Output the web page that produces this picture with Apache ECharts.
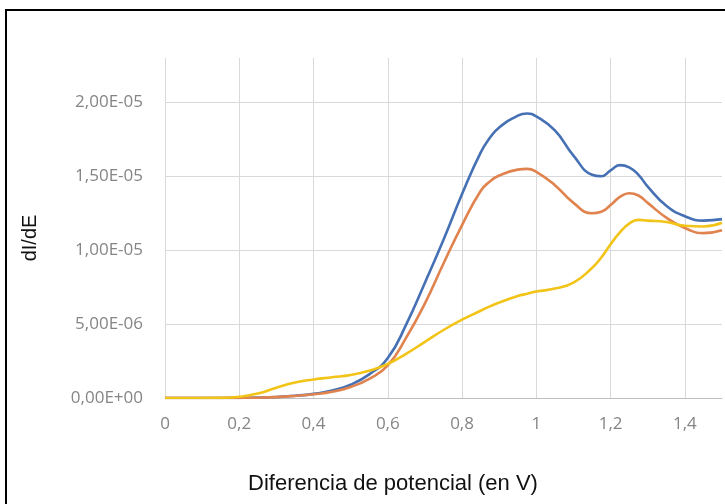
<!DOCTYPE html>
<html>
<head>
<meta charset="utf-8">
<script src="https://cdn.jsdelivr.net/npm/echarts@6/dist/echarts.min.js"></script>
<style>html,body{margin:0;padding:0;background:#fff;}#c{width:725px;height:504px;}</style>
</head>
<body>
<div id="c"></div>
<script>
// Potential difference (V)
const xValues = [0,0.05,0.1,0.15,0.2,0.25,0.3,0.35,0.4,0.45,0.5,0.55,0.6,0.65,0.7,0.75,0.8,0.85,0.875,0.9,0.95,0.975,1.0,1.05,1.1,1.15,1.175,1.2,1.225,1.25,1.275,1.3,1.35,1.4,1.45,1.5];
// dI/dE series
const serie1 = [0,0,0,0,0.01e-6,0.03e-6,0.07e-6,0.15e-6,0.28e-6,0.5e-6,0.9e-6,1.6e-6,2.7e-6,5.0e-6,7.8e-6,10.7e-6,13.8e-6,16.6e-6,17.6e-6,18.3e-6,19.1e-6,19.25e-6,19.05e-6,18.1e-6,16.4e-6,15.1e-6,15.0e-6,15.4e-6,15.75e-6,15.6e-6,15.1e-6,14.3e-6,13.0e-6,12.3e-6,12.0e-6,12.1e-6];
const serie2 = [0,0,0,0,0.01e-6,0.02e-6,0.06e-6,0.14e-6,0.25e-6,0.42e-6,0.75e-6,1.3e-6,2.2e-6,4.1e-6,6.4e-6,9.1e-6,11.7e-6,14.0e-6,14.65e-6,15.05e-6,15.45e-6,15.5e-6,15.3e-6,14.4e-6,13.2e-6,12.5e-6,12.6e-6,13.05e-6,13.6e-6,13.85e-6,13.7e-6,13.2e-6,12.2e-6,11.5e-6,11.15e-6,11.35e-6];
const serie3 = [0,0,0,0.01e-6,0.08e-6,0.3e-6,0.7e-6,1.05e-6,1.25e-6,1.4e-6,1.55e-6,1.85e-6,2.3e-6,3.0e-6,3.8e-6,4.6e-6,5.3e-6,5.9e-6,6.2e-6,6.45e-6,6.9e-6,7.05e-6,7.2e-6,7.4e-6,7.8e-6,8.8e-6,9.5e-6,10.4e-6,11.2e-6,11.8e-6,12.05e-6,12.0e-6,11.9e-6,11.65e-6,11.6e-6,11.85e-6];
const yTickValues = [0, 5e-6, 1e-5, 1.5e-5, 2e-5];
const xTitle = 'Diferencia de potencial (en V)';
const yTitle = 'dI/dE';

function sci(v) {
  if (Math.abs(v) < 1e-12) return '0,00E+00';
  let e = Math.floor(Math.log10(Math.abs(v)));
  let m = v / Math.pow(10, e);
  if (Math.round(m * 100) / 100 >= 10) { m /= 10; e += 1; }
  const es = (e < 0 ? '-' : '+') + String(Math.abs(e)).padStart(2, '0');
  return m.toFixed(2).replace('.', ',') + 'E' + es;
}
function pairs(ys) { return xValues.map((x, i) => [x, ys[i]]); }

const chart = echarts.init(document.getElementById('c'), null, {renderer: 'canvas'});
const lineBase = {type: 'line', smooth: 0.5, showSymbol: false, symbol: 'none'};
chart.setOption({
  animation: false,
  backgroundColor: '#fff',
  grid: {left: 165, right: 1, top: 58, bottom: 106, containLabel: false},
  xAxis: {
    type: 'value', min: 0, max: 1.5, interval: 0.2,
    axisLine: {show: true, lineStyle: {color: '#bfbfbf', width: 1}},
    axisTick: {show: false},
    axisLabel: {
      color: '#858585', fontFamily: 'Open Sans', fontSize: 17, margin: 18,
      formatter: v => v > 1.45 ? '' : String(+v.toFixed(1)).replace('.', ',')
    },
    splitLine: {show: true, showMaxLine: false, lineStyle: {color: '#d9d9d9', width: 1}}
  },
  yAxis: {
    type: 'value', min: 0, max: 2.3e-5, interval: 5e-6,
    axisLine: {show: false},
    axisTick: {show: false},
    axisLabel: {
      color: '#858585', fontFamily: 'Open Sans', fontSize: 17, margin: 22,
      formatter: v => yTickValues.some(t => Math.abs(t - v) < 1e-9) ? sci(v) : ''
    },
    splitLine: {show: true, showMaxLine: false, lineStyle: {color: '#d9d9d9', width: 1}}
  },
  series: [
    Object.assign({}, lineBase, {name: 'Serie1', data: pairs(serie1), lineStyle: {color: '#4670b4', width: 2.6}, itemStyle: {color: '#4670b4'}}),
    Object.assign({}, lineBase, {name: 'Serie2', data: pairs(serie2), lineStyle: {color: '#e0834e', width: 2.6}, itemStyle: {color: '#e0834e'}}),
    Object.assign({}, lineBase, {name: 'Serie3', data: pairs(serie3), lineStyle: {color: '#f2c417', width: 2.6}, itemStyle: {color: '#f2c417'}})
  ],
  graphic: [
    {type: 'rect', shape: {x: 6, y: 10, width: 800, height: 600}, style: {fill: 'none', stroke: '#000', lineWidth: 2}, silent: true},
    {type: 'text', x: 393, y: 484, style: {text: xTitle, fill: '#111', font: '22px "Liberation Sans", Arial, sans-serif', textAlign: 'center', textVerticalAlign: 'middle'}},
    {type: 'text', x: 30, y: 238, rotation: Math.PI / 2, style: {text: yTitle, fill: '#111', font: '20px "Liberation Sans", Arial, sans-serif', textAlign: 'center', textVerticalAlign: 'middle'}}
  ]
});
</script>
</body>
</html>
